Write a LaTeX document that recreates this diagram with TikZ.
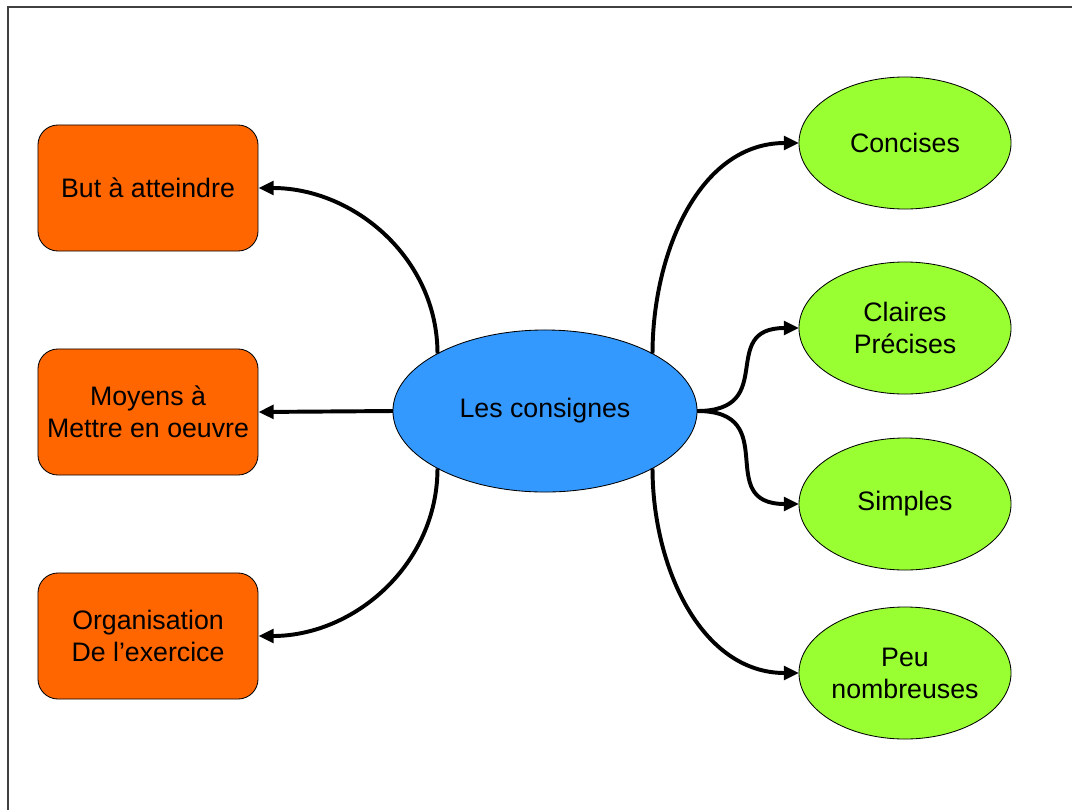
\documentclass[tikz,border=0pt]{standalone}
\usepackage{fontspec}
\setmainfont{Liberation Sans}
\usetikzlibrary{arrows.meta}
\usetikzlibrary{shapes.geometric}
\definecolor{boxorange}{RGB}{255,102,0}
\definecolor{centreblue}{RGB}{51,153,255}
\definecolor{leafgreen}{RGB}{153,255,51}
\begin{document}
\begin{tikzpicture}[x = 0.025cm, y = -0.025cm,
        goal/.style = {draw = black, line width = 0.6pt, fill = boxorange, rounded corners = 0.5cm,
                       minimum width = 5.5cm, minimum height = 3.15cm, align = center, inner sep = 0pt},
        trait/.style = {draw = black, line width = 0.6pt, fill = leafgreen, ellipse, outer sep = 0pt,
                        minimum width = 5.3cm, minimum height = 3.3cm, align = center, inner sep = 0pt},
        link/.style = {black, line width = 2.8pt, -{Triangle[length = 3.8mm, width = 3.4mm]}},
        font = \fontsize{19}{22.7}\selectfont]
            \useasboundingbox (0,0) rectangle (1072,810);
            \draw[black!75, line width = 1pt] (8,810) -- (8,7) -- (1072,7);
            \node[draw = black, line width = 0.6pt, fill = centreblue, ellipse, outer sep = 0pt,
                  minimum width = 7.6cm, minimum height = 4.05cm] (consignes) at (545,411) {Les consignes};
            \node[goal] (but) at (148,188) {But à atteindre};
            \node[goal] (moyens) at (148,412) {Moyens à\\Mettre en oeuvre};
            \node[goal] (organisation) at (148,636) {Organisation\\De l’exercice};
            \node[trait] (concises) at (905,143) {Concises};
            \node[trait] (claires) at (905,328) {Claires\\Précises};
            \node[trait] (simples) at (905,504) {Simples};
            \node[trait] (peu) at (905,673) {Peu\\nombreuses};
            \draw[link] (consignes.north west) to[out = 90, in = 0] (but.east);
            \draw[link] (consignes.west) -- (moyens.east);
            \draw[link] (consignes.south west) to[out = -90, in = 0] (organisation.east);
            \draw[link] (consignes.north east) to[out = 90, in = 180] (concises.west);
            \draw[link] (consignes.east) to[out = 0, in = 180, looseness = 1.6] (claires.west);
            \draw[link] (consignes.east) to[out = 0, in = 180, looseness = 1.6] (simples.west);
            \draw[link] (consignes.south east) to[out = -90, in = 180] (peu.west);
        \end{tikzpicture}
\end{document}
